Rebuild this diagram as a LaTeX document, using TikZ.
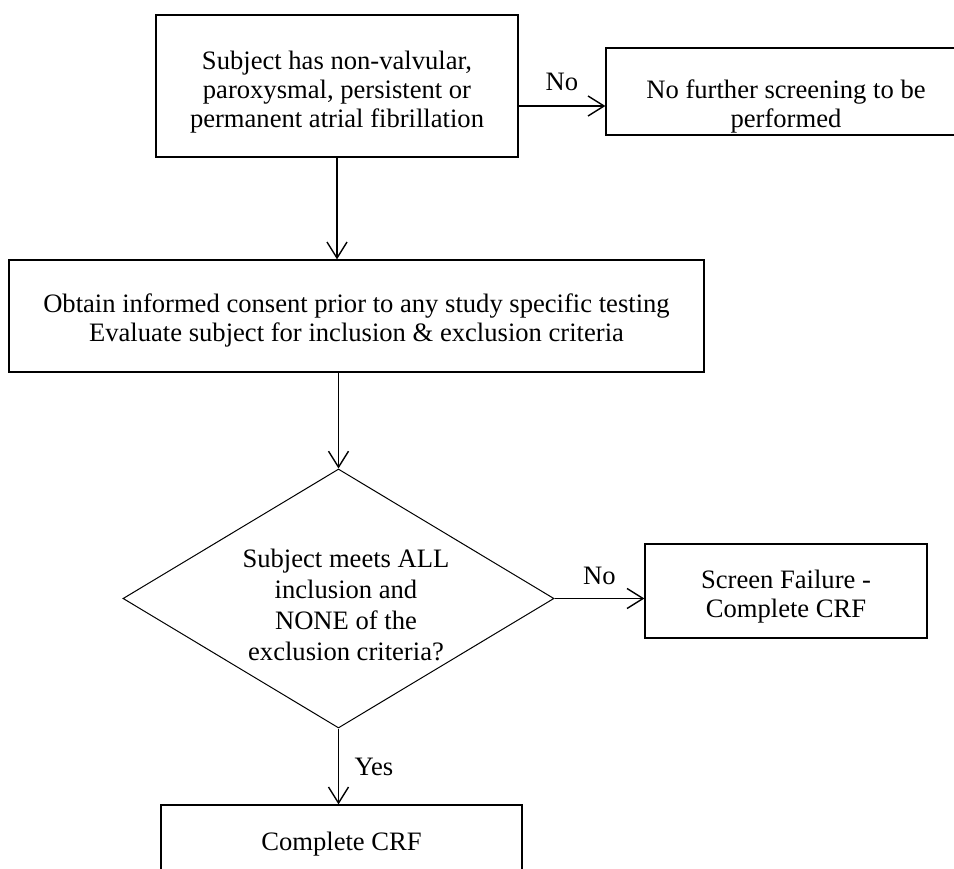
\documentclass[tikz,border=0pt]{standalone}
\usepackage{fontspec}
\setmainfont{Liberation Serif}
\usetikzlibrary{shapes.geometric,arrows.meta}
\begin{document}
\begin{tikzpicture}[x=1pt,y=-1pt,
  font=\fontsize{26.6}{29}\selectfont,
  box/.style={draw, line width=1.3pt, inner sep=0pt},
  dec/.style={draw, diamond, aspect=1.66, line width=1pt, inner sep=0pt},
  btxt/.style={align=center, inner sep=0pt},
  arr/.style={line width=1.4pt, -{Straight Barb[length=16pt,width=20pt,line width=1.4pt]}}]
\path[use as bounding box, clip] (0,0) rectangle (954,869);
\fill[white] (0,0) rectangle (954,869);
% boxes
\node[box, minimum width=362pt, minimum height=142pt] (b1) at (337,86) {};
\node[btxt] (b1t) at (337,92) {Subject has non-valvular,\\paroxysmal, persistent or\\permanent atrial fibrillation};
\node[box, minimum width=360pt, minimum height=87pt] (b2) at (786,91.5) {};
\node[btxt] (b2t) at (786,106) {No further screening to be\\performed};
\node[box, minimum width=695pt, minimum height=112pt] (b3) at (356.5,316) {};
\node[btxt] (b3t) at (356.5,320) {Obtain informed consent prior to any study specific testing\\Evaluate subject for inclusion \& exclusion criteria};
\node[dec, minimum width=431pt, minimum height=259pt] (d) at (338.5,598.5) {};
\node[btxt, font=\fontsize{26.6}{31}\selectfont] (dt) at (346,605) {Subject meets ALL\\inclusion and\\NONE of the\\exclusion criteria?};
\node[box, minimum width=282pt, minimum height=94pt] (sf) at (786,591) {};
\node[btxt] (sft) at (786,597) {Screen Failure -\\Complete CRF};
\node[box, minimum width=361pt, minimum height=74pt] (crf) at (341.5,842) {};
\node[btxt] (crft) at (341.5,844) {Complete CRF};
% connectors
\coordinate (n1) at (0,106);
\draw[arr] (b1.east |- n1) -- (b2.west |- n1) node[midway, above=11pt] (no1) {No};
\draw[arr] (b1.south) -- (b1.south |- b3.north);
\draw[arr] (b3.south -| d.north) -- (d.north);
\draw[arr] (d.east) -- (sf.west |- d.east) node[midway, above=10pt] (no2) {No};
\draw[arr] (d.south) -- (d.south |- crf.north) node[midway, right=12pt] (yes) {Yes};
\end{tikzpicture}
\end{document}
